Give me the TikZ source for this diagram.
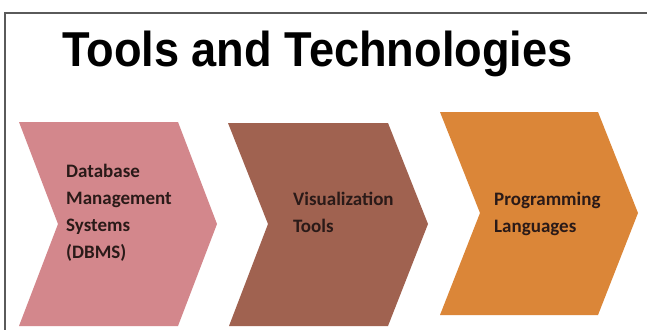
\documentclass[tikz,border=0pt]{standalone}
\usepackage{fontspec}
\usepackage{graphicx}
\setmainfont{Liberation Sans}
\newfontfamily\labelfont{Carlito}
\definecolor{pinkstep}{HTML}{D3878C}
\definecolor{brownstep}{HTML}{A06250}
\definecolor{orangestep}{HTML}{DB8638}
\definecolor{labelink}{HTML}{2A1A18}
\definecolor{framegray}{HTML}{5A5A5A}
\tikzset{
  chevron/.style={fill=#1, draw=none},
  % multi-line labels are anchored at the baseline of their last line
  steplabel/.style={anchor=base west, inner sep=0pt, align=left,
    font=\labelfont\bfseries\fontsize{19}{27}\selectfont, text=labelink},
  titletext/.style={anchor=base west, inner sep=0pt,
    font=\bfseries\fontsize{49}{55}\selectfont, text=black}
}
\begin{document}
\begin{tikzpicture}[x=1pt, y=1pt]
  \useasboundingbox (0,0) rectangle (647,330);
  \fill[white] (0,0) rectangle (647,330);

  % frame: top and left rules
  \coordinate (frameTL) at (5,317);
  \coordinate (frameTR) at (647,317);
  \coordinate (frameBL) at (5,0);
  \draw[framegray, line width=1.2pt] (frameTR) -- (frameTL) -- (frameBL);

  % heading
  \node[titletext] (title) at (62,263) {\scalebox{0.922}[1]{Tools and Technologies}};

  % step 1
  \fill[chevron=pinkstep] (19,208) -- (178,208) -- (217,106) -- (178,4) -- (19,4) -- (58,106) -- cycle;
  % step 2
  \fill[chevron=brownstep] (228,207) -- (388,207) -- (428,106) -- (388,4) -- (229,4) -- (268,106) -- cycle;
  % step 3
  \fill[chevron=orangestep] (440,218) -- (598,218) -- (638,117) -- (598,15) -- (440,15) -- (480,117) -- cycle;

  \node[steplabel] (dbms) at (66,72) {Database\\Management\\Systems\\(DBMS)};
  \node[steplabel] (viz) at (293,98) {Visualization\\Tools};
  \node[steplabel] (prog) at (494,98) {Programming\\Languages};
\end{tikzpicture}
\end{document}
